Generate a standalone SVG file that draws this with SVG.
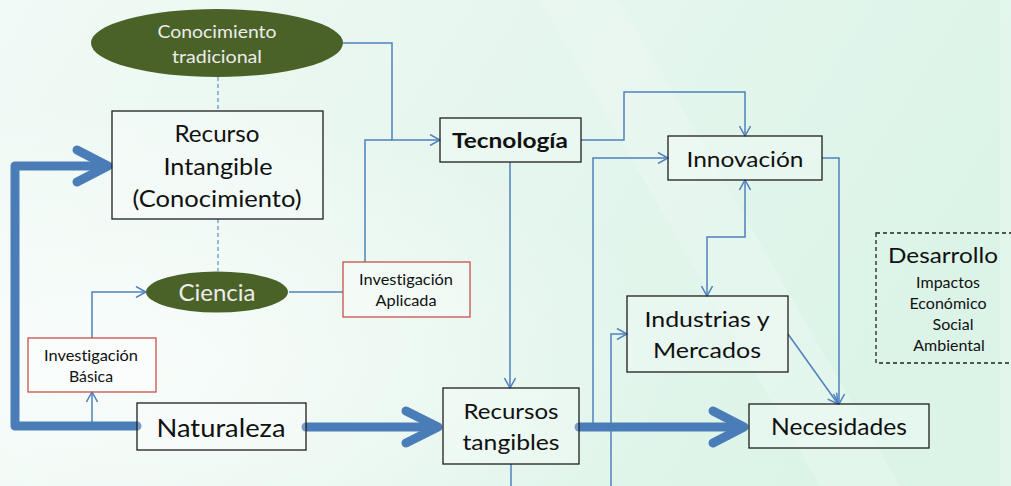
<svg xmlns="http://www.w3.org/2000/svg" width="1011" height="486" viewBox="0 0 1011 486">
  <defs>
    <linearGradient id="bg" x1="0" y1="0" x2="1" y2="0.3">
      <stop offset="0" stop-color="#f1faf6"/>
      <stop offset="0.5" stop-color="#e6f6ee"/>
      <stop offset="1" stop-color="#dcf4e8"/>
    </linearGradient>
    <radialGradient id="glow" cx="0.12" cy="0.75" r="0.55">
      <stop offset="0" stop-color="#ffffff" stop-opacity="0.7"/>
      <stop offset="1" stop-color="#ffffff" stop-opacity="0"/>
    </radialGradient>
    <marker id="arrow" viewBox="0 0 12 12" refX="11" refY="6" markerWidth="12" markerHeight="12" markerUnits="userSpaceOnUse" orient="auto-start-reverse">
      <path d="M1,0.5 L11,6 L1,11.5" fill="none" stroke="#4f81bd" stroke-width="1.5"/>
    </marker>
  </defs>
  <style>
    .box { fill: #ffffff; fill-opacity: 0.25; stroke: #1e1e1e; stroke-width: 1.3; }
    .redbox { fill: #ffffff; fill-opacity: 0.3; stroke: #c9504c; stroke-width: 1.3; }
    .oval { fill: #4a6227; }
    .dev { fill: none; stroke: #222222; stroke-width: 1.3; stroke-dasharray: 4 3; }
    text { font-family: Lato, "Open Sans", "Liberation Sans", sans-serif; fill: #111111; text-anchor: middle; font-variant-ligatures: none; }
    .light { fill: #ececec; }
    .small { font-size: 16px; }
    .link { fill: none; stroke: #4f81bd; stroke-width: 1.5; }
    .dash { fill: none; stroke: #5b8fc9; stroke-width: 1.2; stroke-dasharray: 4 3; }
    .thick { fill: none; stroke: #4a7cb8; stroke-width: 9; stroke-linecap: round; stroke-linejoin: round; }
  </style>

  <!-- background -->
  <rect width="1011" height="486" fill="url(#bg)"/>
  <rect width="1011" height="486" fill="url(#glow)"/>
  <polygon points="540,0 620,0 900,486 820,486" fill="#ffffff" fill-opacity="0.18"/>
  <polygon points="1000,0 1011,0 1011,486 1000,486" fill="#ffffff" fill-opacity="0.2"/>

  <!-- connectors -->
  <g id="connectors">
    <path class="dash" d="M218,77 V111"/>
    <path class="dash" d="M218,219 V271"/>
    <path class="link" d="M343,43 H392 V140 H440" marker-end="url(#arrow)"/>
    <path class="link" d="M365,262 V140 H392"/>
    <path class="link" d="M289,292 H343"/>
    <path class="link" d="M92,426 V392" marker-end="url(#arrow)"/>
    <path class="link" d="M92,338 V292 H146" marker-end="url(#arrow)"/>
    <path class="link" d="M510,162 V388" marker-end="url(#arrow)"/>
    <path class="link" d="M511,464 V486"/>
    <path class="link" d="M581,140 H624 V92 H745 V136" marker-end="url(#arrow)"/>
    <path class="link" d="M593,427 V158 H668" marker-end="url(#arrow)"/>
    <path class="link" d="M611,486 V334 H627" marker-end="url(#arrow)"/>
    <path class="link" d="M707,296 V237 H745 V180" marker-start="url(#arrow)" marker-end="url(#arrow)"/>
    <path class="link" d="M822,158 H839 V404" marker-end="url(#arrow)"/>
    <path class="link" d="M788,334 L838,404" marker-end="url(#arrow)"/>

    <!-- main resource flow -->
    <path class="thick" d="M137,426 H15 V166 H106"/>
    <path class="thick" d="M77,150 L108,166 L77,182"/>
    <path class="thick" d="M306,427 H436"/>
    <path class="thick" d="M406,411 L438,427 L406,443"/>
    <path class="thick" d="M579,427 H742"/>
    <path class="thick" d="M713,411 L744,427 L713,443"/>
  </g>

  <g id="conocimiento-tradicional">
    <ellipse class="oval" cx="217" cy="43" rx="126" ry="34"/>
    <text class="light" x="217" y="38" font-size="17" textLength="119" lengthAdjust="spacingAndGlyphs">Conocimiento</text>
    <text class="light" x="217" y="63" font-size="17" textLength="90" lengthAdjust="spacingAndGlyphs">tradicional</text>
  </g>

  <g id="recurso-intangible">
    <rect class="box" x="112" y="111" width="211" height="108"/>
    <text x="217" y="142" font-size="23" textLength="85" lengthAdjust="spacingAndGlyphs">Recurso</text>
    <text x="218" y="175" font-size="23" textLength="109" lengthAdjust="spacingAndGlyphs">Intangible</text>
    <text x="217" y="207" font-size="23" textLength="169" lengthAdjust="spacingAndGlyphs">(Conocimiento)</text>
  </g>

  <g id="ciencia">
    <ellipse class="oval" cx="217" cy="292" rx="71" ry="20.5"/>
    <text class="light" x="217" y="301" font-size="24" textLength="77" lengthAdjust="spacingAndGlyphs">Ciencia</text>
  </g>

  <g id="investigacion-aplicada">
    <rect class="redbox" x="343" y="262" width="127" height="55"/>
    <text x="406" y="285" font-size="15" textLength="94" lengthAdjust="spacingAndGlyphs">Investigación</text>
    <text x="406" y="306" font-size="15" textLength="61" lengthAdjust="spacingAndGlyphs">Aplicada</text>
  </g>

  <g id="investigacion-basica">
    <rect class="redbox" x="28" y="338" width="128" height="54"/>
    <text x="91" y="361" font-size="15" textLength="94" lengthAdjust="spacingAndGlyphs">Investigación</text>
    <text x="91" y="382" font-size="15" textLength="44" lengthAdjust="spacingAndGlyphs">Básica</text>
  </g>

  <g id="tecnologia">
    <rect class="box" x="440" y="118" width="141" height="44"/>
    <text x="510" y="148" font-size="21" font-weight="bold" textLength="116" lengthAdjust="spacingAndGlyphs">Tecnología</text>
  </g>

  <g id="innovacion">
    <rect class="box" x="668" y="136" width="154" height="44"/>
    <text x="745" y="167" font-size="21" textLength="117" lengthAdjust="spacingAndGlyphs">Innovación</text>
  </g>

  <g id="industrias-mercados">
    <rect class="box" x="627" y="296" width="161" height="76"/>
    <text x="707" y="327" font-size="22" textLength="125" lengthAdjust="spacingAndGlyphs">Industrias y</text>
    <text x="707" y="358" font-size="22" textLength="108" lengthAdjust="spacingAndGlyphs">Mercados</text>
  </g>

  <g id="naturaleza">
    <rect class="box" x="137" y="403" width="169" height="47"/>
    <text x="221" y="437" font-size="25" textLength="129" lengthAdjust="spacingAndGlyphs">Naturaleza</text>
  </g>

  <g id="recursos-tangibles">
    <rect class="box" x="443" y="388" width="136" height="76"/>
    <text x="511" y="419" font-size="22" textLength="95" lengthAdjust="spacingAndGlyphs">Recursos</text>
    <text x="511" y="450" font-size="22" textLength="97" lengthAdjust="spacingAndGlyphs">tangibles</text>
  </g>

  <g id="necesidades">
    <rect class="box" x="749" y="404" width="180" height="44"/>
    <text x="839" y="435" font-size="24" textLength="136" lengthAdjust="spacingAndGlyphs">Necesidades</text>
  </g>

  <g id="desarrollo">
    <rect class="dev" x="876" y="233" width="138" height="130"/>
    <text x="943" y="263" font-size="22" textLength="110" lengthAdjust="spacingAndGlyphs">Desarrollo</text>
    <text class="small" x="948" y="288">Impactos</text>
    <text class="small" x="948" y="309">Económico</text>
    <text class="small" x="953" y="330">Social</text>
    <text class="small" x="949" y="351">Ambiental</text>
  </g>
</svg>
